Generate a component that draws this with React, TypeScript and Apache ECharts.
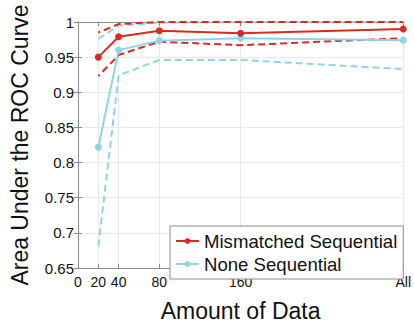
import React, { useEffect, useRef } from "react";
import * as echarts from "echarts";

// x positions of the tick marks and their labels ("All" sits at 320)
const xTickValues = [0, 20, 40, 80, 160, 320];
const xTickLabels = ["0", "20", "40", "80", "160", "All"];

// amount of data used at each measurement
const amounts = [20, 40, 80, 160, 320];

// AUC for the mismatched sequential model: mean and spread band
const mismatchedMean = [0.95, 0.979, 0.9875, 0.984, 0.99];
const mismatchedUpper = [0.985, 0.997, 1.0, 1.0, 1.0];
const mismatchedLower = [0.923, 0.953, 0.972, 0.967, 0.977];

// AUC for the non-sequential model: mean and spread band
const noneMean = [0.822, 0.96, 0.9735, 0.977, 0.974];
const noneUpper = [0.976, 0.995, 0.999, 1.0, 1.0];
const noneLower = [0.681, 0.924, 0.946, 0.946, 0.933];

const RED = "#dc2a1f";
const CYAN = "#8dd5e4";
const FONT = "Liberation Sans";
const FRAME = "#8c8c8c";

const pairs = (ys: number[]) => amounts.map((x, i) => [x, ys[i]]);

export default function App() {
  const ref = useRef<HTMLDivElement>(null);

  useEffect(() => {
    if (!ref.current) return;
    const chart = echarts.init(ref.current, null, { renderer: "svg" });

    const dashed = (name: string, ys: number[], color: string, offset: number) => ({
      name,
      type: "line",
      data: pairs(ys),
      symbol: "none",
      silent: true,
      z: 2,
      lineStyle: { color, width: 2, type: [7, 4], dashOffset: offset },
    });
    const solid = (name: string, ys: number[], color: string) => ({
      name,
      type: "line",
      data: pairs(ys),
      symbol: "circle",
      symbolSize: 7,
      z: 3,
      itemStyle: { color },
      lineStyle: { color, width: 2 },
    });

    const frameAxis = {
      axisLine: { show: true, lineStyle: { color: FRAME, width: 1 } },
      axisTick: { show: true, inside: true, length: 4, lineStyle: { color: FRAME } },
    };

    chart.setOption({
      animation: false,
      backgroundColor: "#ffffff",
      grid: { left: 70, right: 8, top: 22, bottom: 45, show: false },
      legend: {
        data: ["Mismatched Sequential", "None Sequential"],
        orient: "vertical",
        left: 170,
        top: 226,
        padding: [4, 6, 4, 5],
        itemGap: 1,
        itemWidth: 23,
        itemHeight: 7,
        borderColor: FRAME,
        borderWidth: 1,
        backgroundColor: "#ffffff",
        textStyle: { fontFamily: FONT, fontSize: 18.6, color: "#111", lineHeight: 22 },
      },
      xAxis: [
        {
          type: "value",
          min: 0,
          max: 320,
          name: "Amount of Data",
          nameLocation: "middle",
          nameGap: 31,
          nameTextStyle: { fontFamily: FONT, fontSize: 23, color: "#111" },
          ...frameAxis,
          axisTick: { ...frameAxis.axisTick, customValues: xTickValues },
          axisLabel: {
            customValues: xTickValues,
            fontFamily: FONT,
            fontSize: 14,
            color: "#111",
            margin: 7,
            formatter: (v: number) => xTickLabels[xTickValues.indexOf(v)] ?? "",
          },
          splitLine: { show: true, lineStyle: { color: "#e8e8e8", width: 1 } },
        },
        {
          type: "value",
          position: "top",
          min: 0,
          max: 320,
          ...frameAxis,
          axisTick: { ...frameAxis.axisTick, customValues: xTickValues },
          axisLabel: { show: false },
          splitLine: { show: false },
        },
      ],
      yAxis: [
        {
          type: "value",
          min: 0.65,
          max: 1,
          interval: 0.05,
          name: "Area Under the ROC Curve",
          nameLocation: "middle",
          nameGap: 47,
          nameTextStyle: { fontFamily: FONT, fontSize: 23, color: "#111" },
          ...frameAxis,
          axisLabel: { fontFamily: FONT, fontSize: 15, color: "#111", margin: 4 },
          splitLine: { show: true, lineStyle: { color: "#e8e8e8", width: 1 } },
        },
        {
          type: "value",
          position: "right",
          min: 0.65,
          max: 1,
          interval: 0.05,
          ...frameAxis,
          axisLabel: { show: false },
          splitLine: { show: false },
        },
      ],
      series: [
        dashed("None Sequential upper", noneUpper, CYAN, 0),
        dashed("None Sequential lower", noneLower, CYAN, 0),
        dashed("Mismatched Sequential upper", mismatchedUpper, RED, 5),
        dashed("Mismatched Sequential lower", mismatchedLower, RED, 5),
        solid("None Sequential", noneMean, CYAN),
        solid("Mismatched Sequential", mismatchedMean, RED),
      ],
    });

    return () => chart.dispose();
  }, []);

  return <div ref={ref} style={{ width: 414, height: 327, position: "absolute", left: 0, top: 0 }} />;
}
